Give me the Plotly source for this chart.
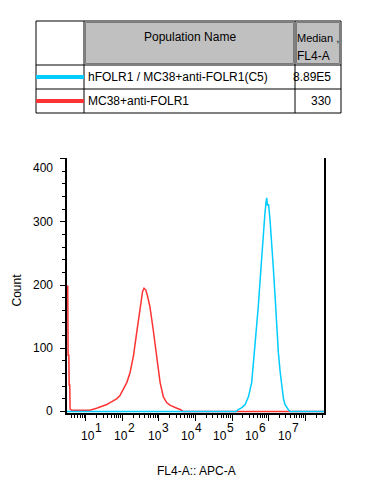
import plotly.graph_objects as go

# ---------------- data ----------------
red_name = "MC38+anti-FOLR1"
blue_name = "hFOLR1 / MC38+anti-FOLR1(C5)"
red_median = "330"
blue_median = "8.89E5"

red_log = [0.48, 0.50, 0.51, 0.53, 0.54, 0.555, 0.565, 0.60, 0.84, 1.11, 1.29, 1.38, 1.47,
           1.57, 1.66, 1.75, 1.84, 1.93, 2.02, 2.12, 2.21, 2.30, 2.39, 2.48, 2.55, 2.59,
           2.62, 2.64, 2.68, 2.75, 2.84, 2.94, 3.03, 3.12, 3.21, 3.30, 3.39, 3.49, 3.58,
           3.66, 7.52]
red_count = [198, 198, 89, 89, 42, 42, 4, 2, 2, 2, 5, 7, 8,
             11, 14, 17, 20, 25, 34, 46, 62, 88, 125, 166, 190, 195,
             194, 192, 184, 166, 130, 88, 46, 23, 14, 10, 7, 5, 3,
             0, 0]

blue_log = [0.48, 5.11, 5.17, 5.27, 5.36, 5.45, 5.54, 5.58, 5.63, 5.68, 5.72, 5.77, 5.81,
            5.86, 5.90, 5.93, 5.95, 5.97, 6.00, 6.04, 6.09, 6.13, 6.18, 6.22, 6.27, 6.32,
            6.36, 6.41, 6.45, 6.50, 6.54, 6.59, 7.52]
blue_count = [0, 0, 3, 6, 11, 23, 46, 72, 98, 130, 166, 208, 244,
              281, 312, 330, 338, 326, 328, 304, 270, 229, 182, 135, 93, 62,
              39, 20, 11, 6, 3, 0, 0]

x_tick_exp = [1, 2, 3, 4, 5, 6, 7]
x_tick_base = "10"
y_tick_vals = [0, 100, 200, 300, 400]
y_tick_text = ["0", "100", "200", "300", "400"]

RED = "#ff3333"
CYAN = "#00ccff"
FONT = "Liberation Sans, Arial, sans-serif"

# the page body has an 8px margin: the figure sits at (8, 8) in the window
OFF = 8
W, H = 370 - OFF, 491 - OFF
L, T = 67 - OFF, 158 - OFF
PW, PH = 257, 255
R, B = W - L - PW, H - T - PH


def px(xp):  # window pixel x -> paper
    return (xp - OFF - L) / PW


def py(yp):  # window pixel y -> paper
    return (T + PH - (yp - OFF)) / PH


fig = go.Figure()
fig.add_trace(go.Scatter(x=[10 ** v for v in red_log], y=red_count, mode="lines",
                         line=dict(color=RED, width=1.5), name=red_name))
fig.add_trace(go.Scatter(x=[10 ** v for v in blue_log], y=blue_count, mode="lines",
                         line=dict(color=CYAN, width=1.5), name=blue_name))

minor_vals = []
for e in range(0, 8):
    for m in range(2, 10):
        minor_vals.append(m * 10 ** e)

fig.update_xaxes(type="log", range=[0.48, 7.52], showgrid=False, zeroline=False,
                 showline=True, linecolor="black", linewidth=2,
                 tickmode="array", tickvals=[10 ** e for e in x_tick_exp],
                 ticktext=["" for _ in x_tick_exp],
                 ticks="outside", ticklen=6, tickwidth=1, tickcolor="black",
                 minor=dict(tickmode="array", tickvals=minor_vals, ticks="outside",
                            ticklen=3, tickwidth=1, tickcolor="black"))
fig.update_yaxes(range=[-2.5, 401], showgrid=False, zeroline=False,
                 showline=True, linecolor="black", linewidth=2, mirror=True,
                 tickmode="array", tickvals=y_tick_vals, ticktext=["" for _ in y_tick_vals],
                 ticks="outside", ticklen=5, tickwidth=1, tickcolor="black",
                 minor=dict(dtick=20, ticks="outside", ticklen=3, tickwidth=1,
                            tickcolor="black"))

ann = []
# x tick labels (FlowJo places them slightly left of the decade ticks)
label_center_px = [88, 121, 155, 188, 220, 252, 285]
for e, cp in zip(x_tick_exp, label_center_px):
    ann.append(dict(x=px(cp), y=py(436), xref="paper", yref="paper", text=x_tick_base,
                    showarrow=False, xanchor="center", yanchor="middle",
                    font=dict(size=12, color="black", family=FONT)))
    ann.append(dict(x=px(cp + 10), y=py(428), xref="paper", yref="paper", text=str(e),
                    showarrow=False, xanchor="center", yanchor="middle",
                    font=dict(size=12, color="black", family=FONT)))
# y tick labels
for v, txt in zip(y_tick_vals, y_tick_text):
    ann.append(dict(x=px(55), y=v, xref="paper", yref="y", text=txt, showarrow=False,
                    xanchor="right", yanchor="middle", yshift=(-9 if v == 400 else 0),
                    font=dict(size=12, color="black", family=FONT)))
# axis titles
ann.append(dict(x=px(8.5), y=py(290), xref="paper", yref="paper", text="Count",
                showarrow=False, textangle=-90, xanchor="left", yanchor="middle",
                borderpad=0, font=dict(size=12, color="black", family=FONT)))
ann.append(dict(x=px(196), y=py(471), xref="paper", yref="paper", text="FL4-A:: APC-A",
                showarrow=False, xanchor="center", yanchor="middle",
                font=dict(size=12, color="black", family=FONT)))

# ---------------- table ----------------
shapes = []
tx0, tx1, tx2, tx3 = 36, 84, 295, 341
ty0, ty1, ty2, ty3 = 21, 65, 89, 113


def rect(x0, y0, x1, y1, fill="rgba(0,0,0,0)", line="black", lw=1):
    shapes.append(dict(type="rect", xref="paper", yref="paper", x0=px(x0), x1=px(x1),
                       y0=py(y0), y1=py(y1), fillcolor=fill,
                       line=dict(color=line, width=lw), layer="above"))


def hline(x0, x1, y, color="black", lw=1):
    shapes.append(dict(type="line", xref="paper", yref="paper", x0=px(x0), x1=px(x1),
                       y0=py(y), y1=py(y), line=dict(color=color, width=lw), layer="above"))


def vline(x, y0, y1, color="black", lw=1):
    shapes.append(dict(type="line", xref="paper", yref="paper", x0=px(x), x1=px(x),
                       y0=py(y0), y1=py(y1), line=dict(color=color, width=lw), layer="above"))


# gray header cells
rect(tx1 + 1.5, ty0 + 1.5, tx2 - 1.5, ty1 - 1.5, fill="#c0c0c0", line="#7a7a7a", lw=1)
rect(tx2 + 1.5, ty0 + 1.5, tx3 - 1.5, ty1 - 1.5, fill="#c0c0c0", line="#7a7a7a", lw=1)
# grid
for yy in (ty0, ty1, ty2, ty3):
    hline(tx0, tx3, yy)
for xx in (tx0, tx1, tx2, tx3):
    vline(xx, ty0, ty3)
# legend swatches
hline(tx0, tx1, 77, color=CYAN, lw=4)
hline(tx0, tx1, 101, color=RED, lw=4)

ann.append(dict(x=px(190), y=py(37), xref="paper", yref="paper", text="Population Name",
                showarrow=False, xanchor="center", yanchor="middle",
                font=dict(size=12, color="black", family=FONT)))
ann.append(dict(x=px(296), y=py(38), xref="paper", yref="paper", text="Median ,",
                showarrow=False, xanchor="left", yanchor="middle", borderpad=0,
                font=dict(size=11, color="black", family=FONT)))
ann.append(dict(x=px(296), y=py(56), xref="paper", yref="paper", text="FL4-A",
                showarrow=False, xanchor="left", yanchor="middle", borderpad=0,
                font=dict(size=12, color="black", family=FONT)))
for yy, name, med in ((77, blue_name, blue_median), (101, red_name, red_median)):
    ann.append(dict(x=px(86), y=py(yy), xref="paper", yref="paper", text=name,
                    showarrow=False, xanchor="left", yanchor="middle",
                    font=dict(size=12, color="black", family=FONT)))
    ann.append(dict(x=px(333), y=py(yy), xref="paper", yref="paper", text=med,
                    showarrow=False, xanchor="right", yanchor="middle",
                    font=dict(size=12, color="black", family=FONT)))

fig.update_layout(width=W, height=H, margin=dict(l=L, r=R, t=T, b=B),
                  paper_bgcolor="white", plot_bgcolor="white", showlegend=False,
                  annotations=ann, shapes=shapes,
                  font=dict(family=FONT, size=12, color="black"))

fig.write_html("out.html")
